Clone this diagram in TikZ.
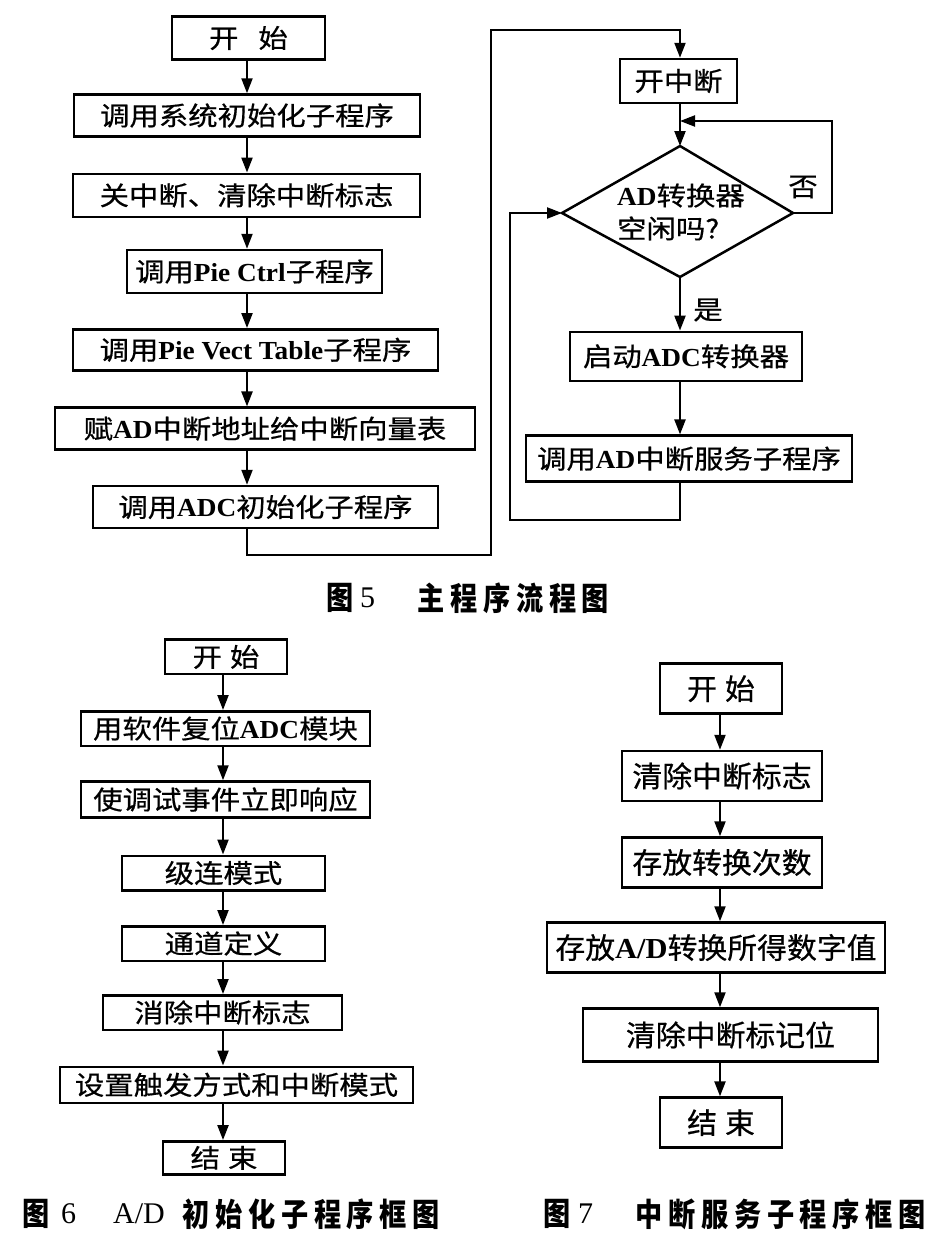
\documentclass[tikz,border=0pt]{standalone}
\usepackage{fontspec}
\usetikzlibrary{arrows.meta}
\newfontfamily\cjkA{Noto Sans CJK SC}[FakeStretch=1.13,FakeBold=0.6]
\newfontfamily\cjkB{Noto Sans CJK SC}[FakeStretch=1.03,FakeBold=0.6]
\newfontfamily\capf{Noto Sans CJK SC}[FakeStretch=0.85,LetterSpace=18]
\newfontfamily\ltf{Liberation Serif}[FakeStretch=1.05]
\newfontfamily\capd{Liberation Serif}
\newcommand\lt[1]{{\ltf\bfseries #1}}
\begin{document}
\begin{tikzpicture}[x=1pt,y=-1pt,
  box/.style={draw,line width=2.5pt,inner sep=0pt,font=\cjkA\fontsize{26}{30}\selectfont},
  boxb/.style={box,font=\cjkB\fontsize{29}{32}\selectfont},
  arr/.style={line width=2.2pt,-{Triangle[length=15pt,width=11pt]}},
  lbl/.style={inner sep=0pt,font=\cjkA\fontsize{26}{33}\selectfont},
  captext/.style={inner sep=0pt,font=\capf\bfseries\fontsize{32}{34}\selectfont},
  capdig/.style={inner sep=0pt,font=\capd\fontsize{30}{34}\selectfont}]
\useasboundingbox[fill=white] (0,0) rectangle (946,1250);
% ---------- Figure 5 ----------
\coordinate (ax5) at (247,0);
\coordinate (axr) at (680,0);
\node[box,minimum width=153pt,minimum height=43pt] (s5) at (248.5,38) {开\hspace{20pt}始};
\node[box,minimum width=346pt,minimum height=42pt] (b1) at (247,115.5) {调用系统初始化子程序};
\node[box,minimum width=347pt,minimum height=43pt] (b2) at (246.5,195.3) {关中断、清除中断标志};
\node[box,minimum width=255pt,minimum height=43pt] (b3) at (254.5,271.5) {调用\lt{Pie Ctrl}子程序};
\node[box,minimum width=365pt,minimum height=41pt] (b4) at (255.5,349.8) {调用\lt{Pie Vect Table}子程序};
\node[box,minimum width=420pt,minimum height=42pt] (b5) at (265,428.7) {赋\lt{AD}中断地址给中断向量表};
\node[box,minimum width=345pt,minimum height=42pt] (b6) at (265.5,507) {调用\lt{ADC}初始化子程序};
\foreach \a/\b in {s5/b1,b1/b2,b2/b3,b3/b4,b4/b5,b5/b6}
  \draw[arr] (\a.south -| ax5) -- (\b.north -| ax5);
\node[box,minimum width=117pt,minimum height=44pt] (kz) at (678.5,81) {开中断};
\coordinate (dtop) at (680,146);
\coordinate (dright) at (793,213);
\coordinate (dbot) at (680,277);
\coordinate (dleft) at (562,213);
\draw[line width=2.5pt,line join=miter] (dtop) -- (dright) -- (dbot) -- (dleft) -- cycle;
\node[lbl,align=left,anchor=west] (dq) at (617,212) {\lt{AD}转换器\\空闲吗?};
\node[box,minimum width=232pt,minimum height=49pt] (qd) at (686,356.3) {启动\lt{ADC}转换器};
\node[box,minimum width=326pt,minimum height=46pt] (dy) at (689,458.7) {调用\lt{AD}中断服务子程序};
\coordinate (j1) at (491,555);
\coordinate (j2) at (491,30);
\draw[arr] (b6.south -| ax5) |- (j1) -- (j2) -| (kz.north -| axr);
\draw[arr] (kz.south -| axr) -- (dtop);
\coordinate (n1) at (832,121);
\draw[arr] (dright) -| (n1) -- (n1 -| axr);
\node[lbl] (no) at (803,187) {否};
\draw[arr] (dbot) -- (qd.north -| axr);
\node[lbl] (yes) at (708,310) {是};
\draw[arr] (qd.south -| axr) -- (dy.north -| axr);
\coordinate (m1) at (510,520);
\draw[arr] (dy.south -| axr) |- (m1) |- (dleft);
\node[captext,anchor=west] (c5a) at (326,598) {图};
\node[capdig,anchor=west] (c5n) at (360,598) {5};
\node[captext,anchor=west] (c5b) at (417,598) {主程序流程图};
% ---------- Figure 6 ----------
\coordinate (ax6) at (223,0);
\node[box,minimum width=122pt,minimum height=34.5pt] (s6) at (226,656.9) {开\hspace{8pt}始};
\node[box,minimum width=289pt,minimum height=34.5pt] (c1) at (225.5,728.5) {用软件复位\lt{ADC}模块};
\node[box,minimum width=289pt,minimum height=36pt] (c2) at (225.5,799.5) {使调试事件立即响应};
\node[box,minimum width=203pt,minimum height=34.5pt] (c3) at (223.5,873) {级连模式};
\node[box,minimum width=203pt,minimum height=34.5pt] (c4) at (223.5,943.5) {通道定义};
\node[box,minimum width=239pt,minimum height=34.5pt] (c5) at (222.5,1012.5) {消除中断标志};
\node[box,minimum width=353pt,minimum height=36pt] (c6) at (236.5,1084.8) {设置触发方式和中断模式};
\node[box,minimum width=122pt,minimum height=33pt] (c7) at (224,1157.8) {结\hspace{8pt}束};
\foreach \a/\b in {s6/c1,c1/c2,c2/c3,c3/c4,c4/c5,c5/c6,c6/c7}
  \draw[arr] (\a.south -| ax6) -- (\b.north -| ax6);
\node[captext,anchor=west] (c6a) at (22,1214) {图};
\node[capdig,anchor=west] (c6n) at (61,1214) {6};
\node[capdig,anchor=west] (c6d) at (113,1214) {A/D};
\node[captext,anchor=west] (c6b) at (182,1214) {初始化子程序框图};
% ---------- Figure 7 ----------
\coordinate (ax7) at (720,0);
\node[boxb,minimum width=122pt,minimum height=50pt] (s7) at (721,688.7) {开\hspace{8pt}始};
\node[boxb,minimum width=200pt,minimum height=50pt] (d1) at (722,776) {清除中断标志};
\node[boxb,minimum width=200pt,minimum height=50pt] (d2) at (722,862.5) {存放转换次数};
\node[boxb,minimum width=338pt,minimum height=50pt] (d3) at (716,947.5) {存放\lt{A/D}转换所得数字值};
\node[boxb,minimum width=295pt,minimum height=53pt] (d4) at (730.5,1035) {清除中断标记位};
\node[boxb,minimum width=122pt,minimum height=50pt] (d5) at (721,1122.6) {结\hspace{8pt}束};
\foreach \a/\b in {s7/d1,d1/d2,d2/d3,d3/d4,d4/d5}
  \draw[arr] (\a.south -| ax7) -- (\b.north -| ax7);
\node[captext,anchor=west] (c7a) at (543,1214) {图};
\node[capdig,anchor=west] (c7n) at (578,1214) {7};
\node[captext,anchor=west] (c7b) at (635,1214) {中断服务子程序框图};
\end{tikzpicture}
\end{document}
